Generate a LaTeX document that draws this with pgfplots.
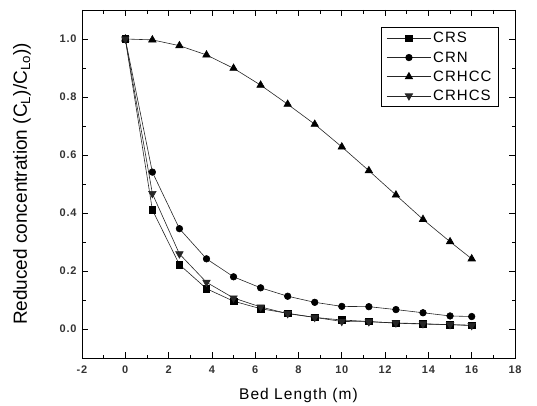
\documentclass[border=0pt]{standalone}
\usepackage{fontspec}
\setmainfont{Liberation Sans}
\newfontfamily\spfont[LetterSpace=7]{Liberation Sans}
\usepackage{pgfplots}
\pgfplotsset{compat=1.18}
\begin{document}
\begin{tikzpicture}[x=1pt,y=1pt]
\useasboundingbox (0,0) rectangle (537,405);
\begin{axis}[
  at={(82pt,47pt)}, anchor=south west,
  scale only axis, width=433pt, height=348pt,
  xmin=-2, xmax=18, ymin=-0.1, ymax=1.1,
  xtick={-2,0,...,18}, ytick={0,0.2,...,1.0},
  minor xtick={-1,1,...,17}, minor ytick={-0.1,0.1,0.3,0.5,0.7,0.9,1.1},
  tick align=inside, major tick length=6pt, minor tick length=3.5pt,
  tick style={black, line width=0.8pt},
  axis line style={line width=0.9pt},
  /pgf/number format/assume math mode=true,
  yticklabel style={/pgf/number format/fixed, /pgf/number format/fixed zerofill, /pgf/number format/precision=1, xshift=-2pt},
  xticklabel style={/pgf/number format/fixed, yshift=-4pt},
  ticklabel style={font=\fontsize{11}{13}\spfont\bfseries, text=black!80},
  xlabel={Bed Length (m)},
  ylabel={Reduced concentration (C\textsubscript{L})/C\textsubscript{Lo}))},
  xlabel style={font=\fontsize{15.5}{18}\spfont, at={(axis description cs:0.5,0)}, anchor=center, yshift=-37pt},
  ylabel style={font=\fontsize{19}{22}\selectfont, at={(axis description cs:0,0.5)}, anchor=center, yshift=60pt},
  legend style={at={(1,1)}, xshift=-16pt, yshift=-17pt, anchor=north east,
    draw=black, line width=0.8pt, font=\fontsize{15}{17}\spfont,
    row sep=3.2pt, inner xsep=5pt, inner ysep=3pt, cells={anchor=west}},
  legend image code/.code={\draw[mark repeat=2,mark phase=2] plot coordinates {(0pt,0pt) (22pt,0pt) (44pt,0pt)};},
  legend cell align=left,
  every axis plot/.append style={black!85, line width=0.6pt, mark options={fill=black, draw=black, solid}},
]
\addplot[mark=square*, mark size=3.3pt] coordinates {
(0,1.0) (1.25,0.411) (2.5,0.222) (3.75,0.139) (5,0.096) (6.25,0.070) (7.5,0.054)
(8.75,0.040) (10,0.031) (11.25,0.026) (12.5,0.020) (13.75,0.017) (15,0.015) (16,0.013)};
\addlegendentry{CRS}
\addplot[mark=*, mark size=3.3pt] coordinates {
(0,1.0) (1.25,0.541) (2.5,0.346) (3.75,0.242) (5,0.180) (6.25,0.142) (7.5,0.113)
(8.75,0.092) (10,0.078) (11.25,0.077) (12.5,0.067) (13.75,0.056) (15,0.045) (16,0.043)};
\addlegendentry{CRN}
\addplot[mark=triangle*, mark size=4.3pt] coordinates {
(0,1.0) (1.25,0.997) (2.5,0.977) (3.75,0.945) (5,0.899) (6.25,0.841) (7.5,0.775)
(8.75,0.706) (10,0.628) (11.25,0.546) (12.5,0.462) (13.75,0.378) (15,0.301) (16,0.242)};
\addlegendentry{CRHCC}
\addplot[mark=triangle*, mark size=4.3pt, mark options={rotate=180}] coordinates {
(0,1.0) (1.25,0.467) (2.5,0.259) (3.75,0.161) (5,0.107) (6.25,0.076) (7.5,0.053)
(8.75,0.040) (10,0.026) (11.25,0.025) (12.5,0.021) (13.75,0.018) (15,0.015) (16,0.012)};
\addlegendentry{CRHCS}
\end{axis}
\end{tikzpicture}
\end{document}
